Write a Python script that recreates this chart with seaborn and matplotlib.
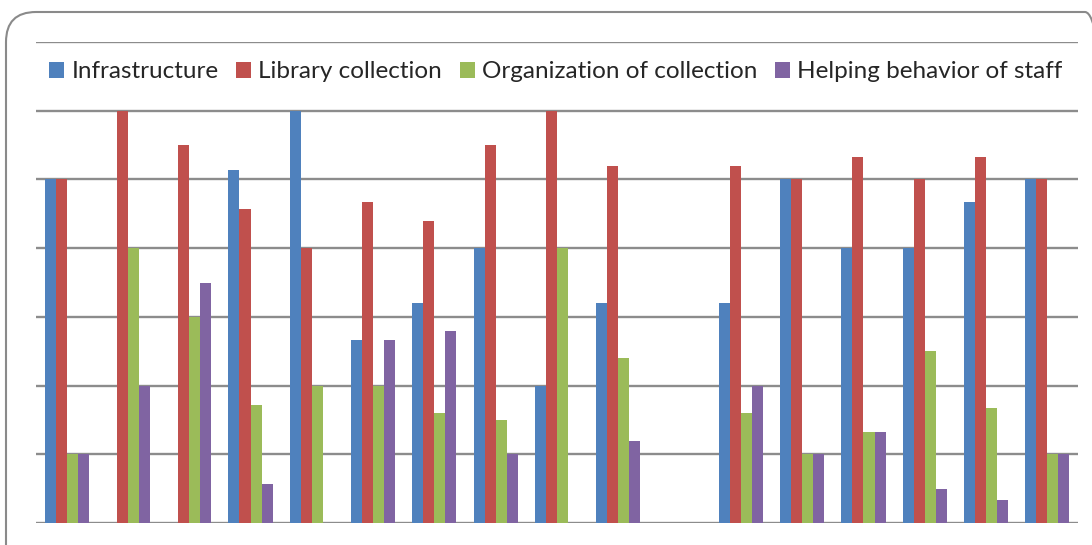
import matplotlib
matplotlib.use("Agg")
import matplotlib.pyplot as plt
from matplotlib.patches import FancyBboxPatch
from matplotlib.transforms import IdentityTransform
import numpy as np
import pandas as pd
import seaborn as sns

# Categories (17 groups, the 11th has no responses)
categories = [str(i) for i in range(1, 18)]
series = ["Infrastructure", "Library collection",
          "Organization of collection", "Helping behavior of staff"]

infrastructure = [50, 0, 0, 51.4, 60, 26.7, 32, 40, 20, 32, 0, 32, 50, 40, 40, 46.7, 50]
library_collection = [50, 60, 55, 45.7, 40, 46.7, 44, 55, 60, 52, 0, 52, 50, 53.3, 50, 53.3, 50]
organization = [10, 40, 30, 17.1, 20, 20, 16, 15, 40, 24, 0, 16, 10, 13.3, 25, 16.7, 10]
helping_staff = [10, 20, 35, 5.7, 0, 26.7, 28, 10, 0, 12, 0, 20, 10, 13.3, 5, 3.3, 10]

colors = ["#4F81BD", "#C0504D", "#9BBB59", "#8064A2"]

df = pd.DataFrame({
    "category": categories * 4,
    "series": np.repeat(series, len(categories)),
    "value": infrastructure + library_collection + organization + helping_staff,
})

sns.set_theme(style="white")
plt.rcParams["font.family"] = ["Lato", "DejaVu Sans"]

W, H = 1092, 545
fig = plt.figure(figsize=(W / 100, H / 100), dpi=100)
ax = fig.add_axes([36 / W, 22 / H, 1042 / W, 481 / H])

sns.barplot(data=df, x="category", y="value", hue="series", order=categories,
            hue_order=series, palette=colors, saturation=1, width=0.72,
            linewidth=0, errorbar=None, ax=ax)

ax.set_xlim(-0.5, len(categories) - 0.5)
ax.set_ylim(0, 70)
ax.set_yticks(np.arange(0, 71, 10))
ax.set_axisbelow(True)
ax.yaxis.grid(True, color="#8c8c8c", linewidth=1.7)
ax.xaxis.grid(False)
ax.tick_params(left=False, bottom=False, labelleft=False, labelbottom=False)
for s in ax.spines.values():
    s.set_visible(False)
ax.set_xlabel("")
ax.set_ylabel("")

handles, labels = ax.get_legend_handles_labels()
ax.legend(handles, labels, loc="center left", bbox_to_anchor=(0.0125, 0.938),
          ncol=4, frameon=False, fontsize=17.5, handlelength=0.62,
          handleheight=0.62, handletextpad=0.3, columnspacing=0.72,
          borderaxespad=0, borderpad=0)

# Rounded chart-area frame (pixel coordinates)
frame = FancyBboxPatch((6, -40), 1109, H - 12 + 40,
                       boxstyle="round,pad=0,rounding_size=30",
                       transform=IdentityTransform(), fill=False,
                       edgecolor="#8a8a8a", linewidth=1.5, clip_on=False)
fig.patches.append(frame)

fig.savefig("out.png", dpi=100, facecolor="white")
